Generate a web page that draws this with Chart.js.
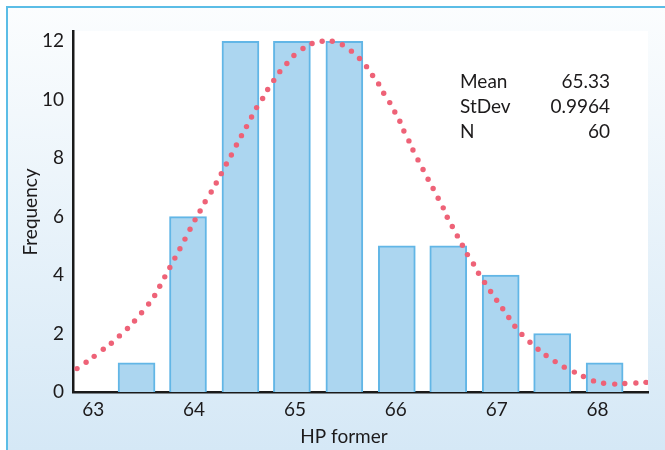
<!DOCTYPE html>
<html>
<head>
<meta charset="utf-8">
<script src="https://cdn.jsdelivr.net/npm/chart.js@4/dist/chart.umd.min.js"></script>
<style>
  html, body { margin: 0; padding: 0; background: #fff; }
  #chart { display: block; }
</style>
</head>
<body>
<canvas id="chart" width="665" height="450"></canvas>
<script>
// Histogram bins (bar centres) and counts
const binCentres = [63.43, 63.94, 64.46, 64.97, 65.49, 66.01, 66.52, 67.04, 67.55, 68.07];
const counts = [1, 6, 12, 12, 12, 5, 5, 4, 2, 1];

// Fitted curve, dot by dot
const curveX = [62.84, 62.93, 63.01, 63.10, 63.18, 63.26, 63.34, 63.41, 63.48, 63.55,
    63.61, 63.66, 63.71, 63.76, 63.81, 63.86, 63.91, 63.96, 64.01, 64.06,
    64.11, 64.17, 64.22, 64.27, 64.32, 64.37, 64.42, 64.47, 64.52, 64.57,
    64.62, 64.68, 64.73, 64.79, 64.85, 64.92, 64.99, 65.08, 65.17, 65.27,
    65.37, 65.47, 65.56, 65.64, 65.71, 65.77, 65.83, 65.88, 65.94, 65.99,
    66.04, 66.08, 66.13, 66.17, 66.22, 66.27, 66.32, 66.37, 66.42, 66.47,
    66.51, 66.56, 66.61, 66.66, 66.71, 66.77, 66.82, 66.88, 66.94, 67.00,
    67.06, 67.12, 67.18, 67.25, 67.33, 67.41, 67.49, 67.58, 67.67, 67.77,
    67.86, 67.96, 68.06, 68.17, 68.27, 68.38, 68.48];
const curveY = [0.80, 1.02, 1.22, 1.46, 1.67, 1.92, 2.17, 2.43, 2.71, 3.01,
    3.30, 3.62, 3.94, 4.26, 4.58, 4.90, 5.23, 5.57, 5.89, 6.19,
    6.51, 6.84, 7.15, 7.47, 7.80, 8.11, 8.45, 8.77, 9.08, 9.41,
    9.73, 10.04, 10.35, 10.66, 10.96, 11.24, 11.51, 11.75, 11.92, 12.00,
    12.00, 11.88, 11.66, 11.41, 11.13, 10.83, 10.54, 10.22, 9.90, 9.58,
    9.26, 8.93, 8.59, 8.28, 7.94, 7.61, 7.28, 6.96, 6.63, 6.30,
    5.98, 5.66, 5.34, 5.02, 4.70, 4.38, 4.06, 3.75, 3.44, 3.14,
    2.85, 2.55, 2.25, 1.97, 1.70, 1.46, 1.25, 1.04, 0.85, 0.68,
    0.53, 0.38, 0.30, 0.27, 0.29, 0.31, 0.33];

// Summary box
const statLabels = ['Mean', 'StDev', 'N'];
const statValues = ['65.33', '0.9964', '60'];

const xTitle = 'HP former';
const yTitle = 'Frequency';

const FONT = 'Lato, "Open Sans", sans-serif';
const TEXT = '#1c1a1b';

// Panel background, border and white plot area
const backgroundPlugin = {
    id: 'panel',
    beforeDraw(chart) {
        const { ctx, chartArea: a, width, height } = chart;
        ctx.save();
        ctx.fillStyle = '#ffffff';
        ctx.fillRect(0, 0, width, height);
        const g = ctx.createLinearGradient(0, 7, 0, height);
        g.addColorStop(0, '#fbfdfe');
        g.addColorStop(1, '#d5e8f6');
        ctx.fillStyle = g;
        ctx.fillRect(7, 7, width - 7, height - 7);
        ctx.strokeStyle = '#5bbde6';
        ctx.lineWidth = 2;
        ctx.beginPath();
        ctx.moveTo(7, height);
        ctx.lineTo(7, 7);
        ctx.lineTo(width, 7);
        ctx.stroke();
        ctx.fillStyle = '#ffffff';
        ctx.fillRect(a.left, a.top, a.right - a.left, a.bottom - a.top);
        ctx.restore();
    },
    afterDraw(chart) {
        const { ctx } = chart;
        ctx.save();
        ctx.fillStyle = TEXT;
        ctx.font = '19px ' + FONT;
        ctx.textBaseline = 'middle';
        // axis titles
        ctx.textAlign = 'center';
        ctx.fillText(xTitle, 344, 437);
        ctx.save();
        ctx.translate(31, 212);
        ctx.rotate(-Math.PI / 2);
        ctx.fillText(yTitle, 0, 0);
        ctx.restore();
        // stats
        statLabels.forEach((label, i) => {
            const y = 82 + i * 25;
            ctx.textAlign = 'left';
            ctx.fillText(label, 460, y);
            ctx.textAlign = 'right';
            ctx.fillText(statValues[i], 610, y);
        });
        ctx.restore();
    }
};

const ctx = document.getElementById('chart').getContext('2d');
new Chart(ctx, {
    data: {
        datasets: [{
            type: 'scatter',
            data: curveX.map((x, i) => ({ x: x, y: curveY[i] })),
            pointRadius: 2.7,
            pointBackgroundColor: '#ee6277',
            pointBorderWidth: 0,
            order: 0
        }, {
            type: 'bar',
            data: binCentres.map((x, i) => ({ x: x, y: counts[i] })),
            backgroundColor: '#acd6f0',
            borderColor: '#62b6e6',
            borderWidth: 2,
            barThickness: 37,
            order: 1
        }]
    },
    options: {
        responsive: false,
        animation: false,
        layout: { padding: { left: 0, right: 17, top: 31, bottom: 0 } },
        plugins: {
            legend: { display: false },
            tooltip: { enabled: false }
        },
        scales: {
            x: {
                type: 'linear',
                offset: false,
                min: 62.8,
                max: 68.5,
                grid: { display: false, drawTicks: false, offset: false },
                border: { display: true, color: '#1a1a1a', width: 2.5 },
                ticks: {
                    stepSize: 1,
                    includeBounds: false,
                    padding: 6,
                    color: TEXT,
                    font: { family: FONT, size: 19 }
                },
                afterFit(scale) { scale.height = 58; }
            },
            y: {
                min: 0,
                max: 12.35,
                grid: { display: false, drawTicks: false },
                border: { display: true, color: '#1a1a1a', width: 2.5 },
                ticks: {
                    stepSize: 2,
                    includeBounds: false,
                    padding: 9,
                    color: TEXT,
                    font: { family: FONT, size: 19 }
                },
                afterFit(scale) { scale.width = 73; }
            }
        }
    },
    plugins: [backgroundPlugin]
});
</script>
</body>
</html>
